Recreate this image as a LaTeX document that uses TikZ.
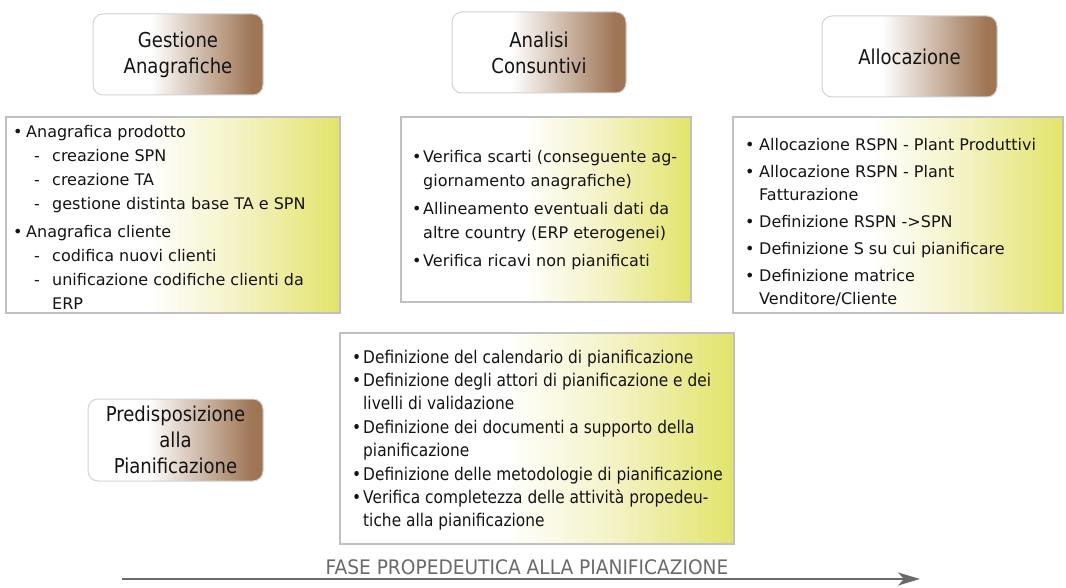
\documentclass[tikz,border=0pt]{standalone}
\usepackage{fontspec}
\setmainfont{DejaVu Sans}
\newfontfamily\condfont[FakeStretch=0.88]{DejaVu Sans}
\newfontfamily\phasefont[FakeStretch=0.93]{DejaVu Sans}
\usetikzlibrary{arrows.meta}
\definecolor{hdrbrown}{HTML}{9E7555}
\definecolor{boxyellow}{HTML}{E2E46A}
\definecolor{boxmid}{HTML}{F4F2C4}
\definecolor{boxborder}{HTML}{C0C0C0}
\definecolor{hdrborder}{HTML}{D2D2D2}
\definecolor{txt}{HTML}{141414}
\definecolor{phasegray}{HTML}{6A6A6A}
\pgfdeclarehorizontalshading{hdrshade}{100bp}{color(0bp)=(white); color(25bp)=(white); color(42bp)=(white); color(72bp)=(hdrbrown); color(100bp)=(hdrbrown)}
\pgfdeclarehorizontalshading{boxshade}{100bp}{color(0bp)=(white); color(25bp)=(white); color(46bp)=(white); color(60bp)=(boxmid); color(75bp)=(boxyellow); color(100bp)=(boxyellow)}
\newlength\bw
\newcommand\nl{\hfil\break}
\newcommand\bul[1]{\par\noindent\hangindent=\bw\hangafter=1\makebox[\bw][l]{•}#1\par}
\newcommand\subi[1]{\par\noindent\hangindent=39pt\hangafter=1\hspace*{21pt}\makebox[18pt][l]{-}#1\par}
\newcommand\bodyfont{\fontsize{16}{24}\selectfont\color{txt}}
\tikzset{
  hdr/.style={draw=hdrborder, line width=1pt, rounded corners=10pt, shading=hdrshade,
    align=center, text=txt, inner sep=0pt, font=\condfont\fontsize{20.5}{26}\selectfont},
  cbox/.style={draw=boxborder, line width=1.6pt, shading=boxshade, inner sep=0pt},
  ctext/.style={anchor=base west, inner sep=0pt, font=\bodyfont},
  phaselbl/.style={text=phasegray, inner sep=0pt, anchor=base, font=\phasefont\fontsize{20}{24}\selectfont},
  phasearrow/.style={draw=phasegray, line width=2pt, -{Stealth[length=22pt,width=13pt,inset=6pt]}}
}
\begin{document}
\begin{tikzpicture}[x=1pt,y=-1pt]
\useasboundingbox (0,0) rectangle (1066,588);
\fill[white] (0,0) rectangle (1066,588);
% header boxes
\node[hdr, minimum width=170pt, minimum height=81pt] (gest) at (178,54.5) {Gestione\\Anagrafiche};
\node[hdr, minimum width=174pt, minimum height=81pt] (anal) at (539,52.5) {Analisi\\Consuntivi};
\node[hdr, minimum width=175pt, minimum height=81pt] (allo) at (909.5,56.5) {Allocazione};
\node[hdr, minimum width=175pt, minimum height=82pt] (pred) at (175.5,440) {Predisposizione\\alla\\Pianificazione};
% content boxes
\node[cbox, minimum width=334pt, minimum height=196pt] (b1) at (173,215) {};
\node[cbox, minimum width=290pt, minimum height=185pt] (b2) at (546,209.5) {};
\node[cbox, minimum width=330pt, minimum height=196pt] (b3) at (898,215) {};
\node[cbox, minimum width=394pt, minimum height=211pt] (b4) at (537,438.5) {};
% box texts
\node[ctext] (t1) at (13,138) {\parbox[t]{330pt}{\setlength\bw{13pt}
\bul{Anagrafica prodotto}
\subi{creazione SPN}
\subi{creazione TA}
\subi{gestione distinta base TA e SPN}
\vspace{4pt}
\bul{Anagrafica cliente}
\subi{codifica nuovi clienti}
\subi{unificazione codifiche clienti da\nl ERP}}};
\node[ctext] (t2) at (412,163) {\parbox[t]{300pt}{\setlength\bw{11pt}
\bul{Verifica scarti (conseguente ag-\nl giornamento anagrafiche)}
\vspace{4pt}
\bul{Allineamento eventuali dati da\nl altre country (ERP eterogenei)}
\vspace{4pt}
\bul{Verifica ricavi non pianificati}}};
\node[ctext] (t3) at (745,151) {\parbox[t]{330pt}{\setlength\bw{14pt}\fontsize{16}{23}\selectfont
\bul{Allocazione RSPN - Plant Produttivi}
\vspace{4pt}
\bul{Allocazione RSPN - Plant\nl Fatturazione}
\vspace{4pt}
\bul{Definizione RSPN ->SPN}
\vspace{4pt}
\bul{Definizione S su cui pianificare}
\vspace{4pt}
\bul{Definizione matrice\nl Venditore/Cliente}}};
\node[ctext, font=\condfont\fontsize{17.5}{23.4}\selectfont\color{txt}] (t4) at (352,363) {\parbox[t]{400pt}{\setlength\bw{11pt}
\bul{Definizione del calendario di pianificazione}
\bul{Definizione degli attori di pianificazione e dei\nl livelli di validazione}
\bul{Definizione dei documenti a supporto della\nl pianificazione}
\bul{Definizione delle metodologie di pianificazione}
\bul{Verifica completezza delle attività propedeu-\nl tiche alla pianificazione}}};
% phase arrow
\coordinate (arrS) at (122,579);
\coordinate (arrE) at (920,579);
\draw[phasearrow] (arrS) -- (arrE);
\node[phaselbl] (phase) at (527,574) {FASE PROPEDEUTICA ALLA PIANIFICAZIONE};
\end{tikzpicture}
\end{document}
